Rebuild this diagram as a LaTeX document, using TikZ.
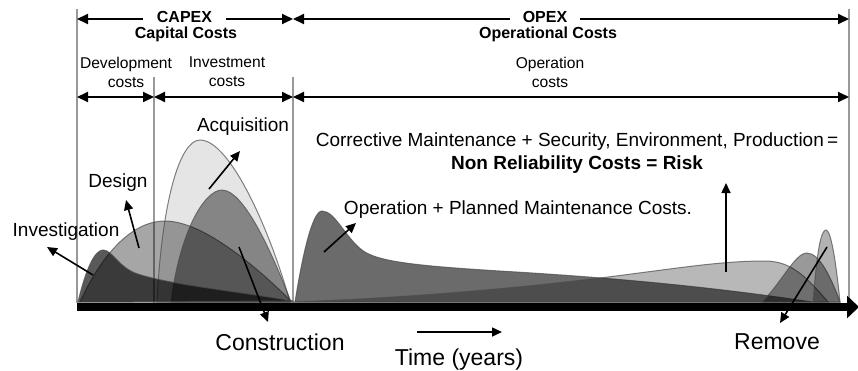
\documentclass[tikz,border=0pt]{standalone}
\usepackage{fontspec}
\setmainfont{Liberation Sans}
\usetikzlibrary{arrows.meta}

\begin{document}
\begin{tikzpicture}[x=1pt, y=-1pt,
  lbl/.style = {font=\fontsize{19}{22}\selectfont, inner sep=0pt},
  big/.style = {font=\fontsize{23}{26}\selectfont, inner sep=0pt},
  hdr/.style = {font=\fontsize{15.6}{19}\selectfont, align=center, inner sep=0pt},
  phase/.style = {font=\bfseries\fontsize{16}{18.5}\selectfont, inner sep=0pt},
  span/.style = {line width=1.9pt,
    {Triangle[length=11pt,width=10pt]}-{Triangle[length=11pt,width=10pt]}},
  ptr/.style = {line width=1.6pt, -{Triangle[length=10pt,width=9pt]}},
  divider/.style = {black!40, line width=1.4pt},
  cost/.style = {draw=black!70, draw opacity=0.7, line width=1pt, fill=black}]

  \useasboundingbox (0,0) rectangle (858,370);

  % phase dividers
  \draw[divider] (77,9) -- (77,303);
  \draw[divider] (154,77) -- (154,303);
  \draw[divider] (293,77) -- (293,303);
  \draw[divider] (849,9) -- (849,303);

  % phase spans
  \coordinate (t0) at (77,19);
  \coordinate (t1) at (293,19);
  \coordinate (t2) at (849,19);
  \coordinate (s0) at (77,97);
  \coordinate (s1) at (154,97);
  \coordinate (s2) at (293,97);
  \coordinate (s3) at (849,97);
  \draw[span] (t0) -- (t1);
  \draw[span] (t1) -- (t2);
  \draw[span] (s0) -- (s1);
  \draw[span] (s1) -- (s2);
  \draw[span] (s2) -- (s3);

  \node[phase, fill=white, inner xsep=14pt, inner ysep=3pt] (capex) at (184.5,17) {CAPEX};
  \node[phase] (capital) at (186,34) {Capital Costs};
  \node[phase, fill=white, inner xsep=13pt, inner ysep=3pt] (opex) at (545,17) {OPEX};
  \node[phase] (operational) at (548,34) {Operational Costs};
  \node[hdr] (devel) at (126,72) {Development\\costs};
  \node[hdr] (invest) at (227,72) {Investment\\costs};
  \node[hdr] (operat) at (550,72) {Operation\\costs};

  % cost curves
  \fill[cost, fill opacity=0.35] (80,302) .. controls (100,258) and (130,221) .. (165,221)
    .. controls (205,221) and (262,272) .. (292,302) -- cycle;
  \fill[cost, fill opacity=0.1] (157,302) .. controls (162,200) and (180,140) .. (200,140)
    .. controls (230,140) and (270,230) .. (290,302) -- cycle;
  \fill[cost, fill opacity=0.42] (171,302) .. controls (180,230) and (205,190) .. (222,190)
    .. controls (245,190) and (275,260) .. (291,302) -- cycle;
  \fill[cost, fill opacity=0.65] (78,302) .. controls (86,268) and (95,250) .. (103,250)
    .. controls (112,250) and (118,266) .. (135,273) .. controls (165,284) and (235,291) .. (293,301) -- cycle;
  \fill[cost, fill opacity=0.58] (295,302) .. controls (302,258) and (312,211) .. (322,211)
    .. controls (335,211) and (345,237) .. (362,250) .. controls (377,262) and (420,266) .. (500,271)
    .. controls (620,278) and (720,288) .. (812,302) -- cycle;
  \fill[cost, fill opacity=0.28] (293,302) .. controls (400,298) and (500,290) .. (600,278)
    .. controls (680,268) and (720,261) .. (765,261) .. controls (790,261) and (805,275) .. (828,302) -- cycle;
  \fill[cost, fill opacity=0.4] (762,302) .. controls (782,282) and (795,253) .. (807,253)
    .. controls (820,253) and (832,280) .. (840,302) -- cycle;
  \fill[cost, fill opacity=0.3] (813,302) .. controls (817,250) and (821,230) .. (826,230)
    .. controls (831,230) and (836,262) .. (840,302) -- cycle;

  % time axis
  \coordinate (a0) at (77,307);
  \coordinate (a1) at (859,307);
  \draw[line width=8pt, -{Triangle[length=12pt,width=22pt]}] (a0) -- (a1);

  % labels
  \node[lbl] (inv) at (66,232) {Investigation};
  \node[lbl] (dsg) at (118,183) {Design};
  \node[lbl] (acq) at (243,127) {Acquisition};
  \node[big] (con) at (280,342) {Construction};
  \node[lbl] (opm) at (518,210) {Operation + Planned Maintenance Costs.};
  \node[lbl] (cor) at (577,142) {Corrective Maintenance + Security, Environment, Production\,=};
  \node[lbl, font=\bfseries\fontsize{19}{22}\selectfont] (risk) at (577,165) {Non Reliability Costs = Risk};
  \node[big] (rem) at (777,342) {Remove};
  \node[big] (time) at (459,360) {Time (years)};

  % pointers from the curves
  \coordinate (invFrom) at (93,275);   \coordinate (invTo) at (47,247);
  \coordinate (dsgFrom) at (139,248);  \coordinate (dsgTo) at (126,200);
  \coordinate (acqFrom) at (209,189);  \coordinate (acqTo) at (240,151);
  \coordinate (conFrom) at (239,247);  \coordinate (conTo) at (268,322);
  \coordinate (opmFrom) at (324,252);  \coordinate (opmTo) at (356,223);
  \coordinate (riskFrom) at (726,272); \coordinate (riskTo) at (726,183);
  \coordinate (remFrom) at (827,247);  \coordinate (remTo) at (780,323);
  \coordinate (timeFrom) at (417,332); \coordinate (timeTo) at (502,332);
  \draw[ptr] (invFrom) -- (invTo);
  \draw[ptr] (dsgFrom) -- (dsgTo);
  \draw[ptr] (acqFrom) -- (acqTo);
  \draw[ptr] (conFrom) -- (conTo);
  \draw[ptr] (opmFrom) -- (opmTo);
  \draw[ptr] (riskFrom) -- (riskTo);
  \draw[ptr] (remFrom) -- (remTo);
  \draw[ptr] (timeFrom) -- (timeTo);
\end{tikzpicture}
\end{document}
